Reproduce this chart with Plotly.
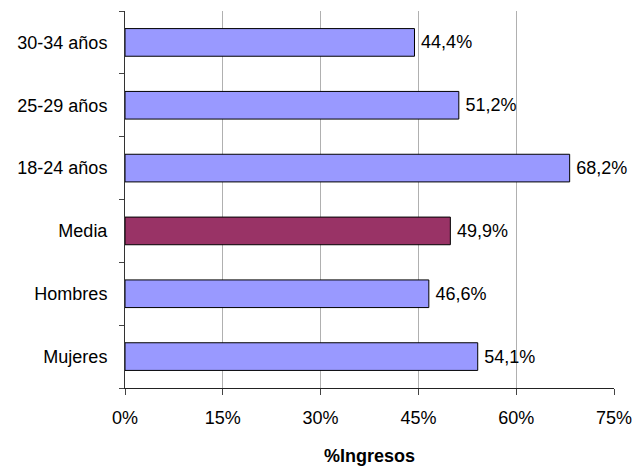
import plotly.graph_objects as go

categories = ["Mujeres", "Hombres", "Media", "18-24 años", "25-29 años", "30-34 años"]
values = [54.1, 46.6, 49.9, 68.2, 51.2, 44.4]
bar_colors = ["#9999FF", "#9999FF", "#993366", "#9999FF", "#9999FF", "#9999FF"]
tick_vals = [0, 15, 30, 45, 60, 75]
tick_text = ["0%", "15%", "30%", "45%", "60%", "75%"]

FONT = "Liberation Sans, Arial"

fig = go.Figure(go.Bar(
    x=values, y=categories, orientation="h",
    marker=dict(color=bar_colors, line=dict(color="#000000", width=1)),
    width=0.44,
    texttemplate="\u2009%{x:.1f}%", textposition="outside",
    textfont=dict(family=FONT, size=18, color="#000000"),
    cliponaxis=False,
))

fig.update_layout(
    width=637, height=467,
    margin=dict(l=125, r=23, t=11, b=79, autoexpand=False),
    paper_bgcolor="white", plot_bgcolor="white",
    separators=",.",
    showlegend=False,
    font=dict(family=FONT, size=18, color="#000000"),
    xaxis=dict(
        range=[0, 75], tickvals=tick_vals, ticktext=tick_text,
        showgrid=True, gridcolor="#B0B0B0", gridwidth=1,
        showline=True, linecolor="#222222", linewidth=1,
        ticks="outside", ticklen=6, tickcolor="#444444",
        zeroline=False, automargin=False,
        ticklabelstandoff=7,
    ),
    yaxis=dict(
        categoryorder="array", categoryarray=categories,
        showline=True, linecolor="#333333", linewidth=1,
        ticks="outside", ticklen=5, tickcolor="#444444",
        tickson="boundaries", showgrid=False, automargin=False,
        ticklabelstandoff=13,
    ),
    annotations=[dict(
        text="<b>%Ingresos</b>", x=0.5, xref="paper",
        y=-(456 - 388) / 377.0, yref="paper", yanchor="middle",
        showarrow=False, font=dict(family=FONT, size=18, color="#000000"),
    )],
)

fig.write_html(
    "out.html",
    config={"displayModeBar": False},
    post_script="document.body.style.margin='0';document.body.style.overflow='hidden';",
)
